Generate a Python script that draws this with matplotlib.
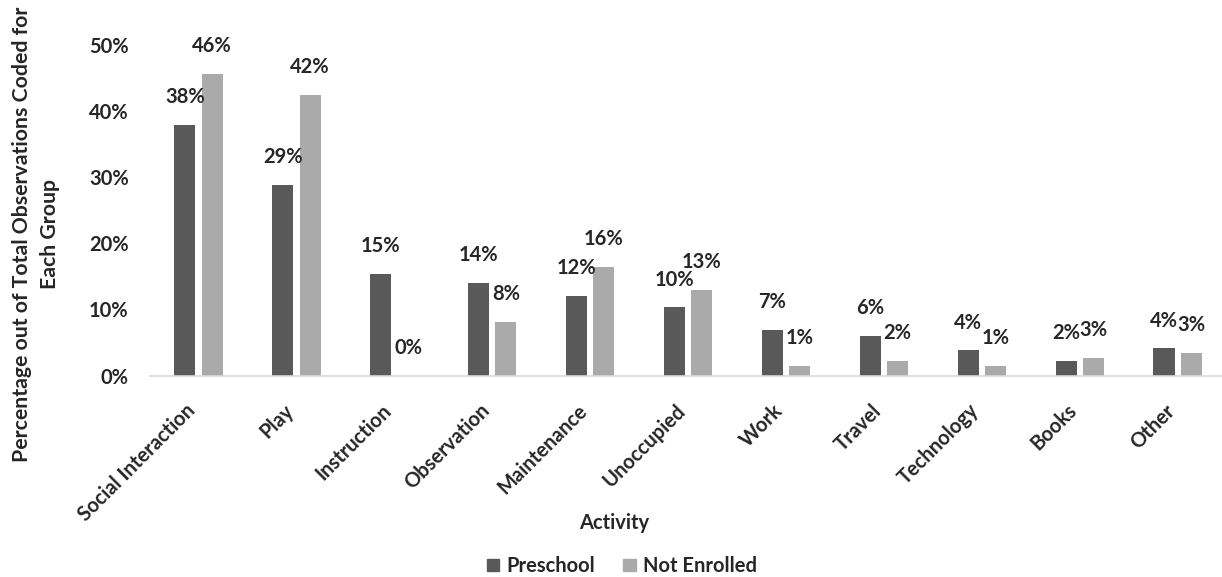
import matplotlib
matplotlib.use('Agg')
from matplotlib import pyplot as plt
from matplotlib.patches import Patch
import numpy as np

# activity categories and share of observations (%) for each group
activities = ['Social Interaction', 'Play', 'Instruction', 'Observation', 'Maintenance',
              'Unoccupied', 'Work', 'Travel', 'Technology', 'Books', 'Other']
preschool = [37.9, 28.8, 15.4, 14.0, 12.0, 10.3, 6.9, 6.0, 3.8, 2.2, 4.1]
not_enrolled = [45.6, 42.4, 0.0, 8.1, 16.4, 12.9, 1.4, 2.2, 1.4, 2.7, 3.4]
y_ticks = [0, 10, 20, 30, 40, 50]

dark = '#595959'
light = '#aaaaaa'
txt = '#262626'

plt.rcParams['font.family'] = ['Lato', 'DejaVu Sans']
plt.rcParams['font.weight'] = 'bold'
fs = 14.5

fig = plt.figure(figsize=(12.22, 5.77), dpi=100)
ax = fig.add_axes([149.5 / 1222, 1 - 375.5 / 577, (1226.7 - 149.5) / 1222, (375.5 - 45) / 577])

x = np.arange(len(activities))
w = 0.215
b1 = ax.bar(x - 0.14, preschool, w, color=dark, label='Preschool')
b2 = ax.bar(x + 0.14, not_enrolled, w, color=light, label='Not Enrolled')

# value labels above each bar
for bars, vals in ((b1, preschool), (b2, not_enrolled)):
    for r, v in zip(bars, vals):
        ax.annotate('%d%%' % round(v), (r.get_x() + r.get_width() / 2, v),
                    xytext=(0, 20), textcoords='offset points',
                    ha='center', va='center', fontsize=fs, fontweight='bold', color=txt)

ax.set_xlim(-0.5, len(activities) - 0.5)
ax.set_ylim(0, 50)
ax.set_yticks(y_ticks)
ax.set_yticklabels(['%d%%' % t for t in y_ticks], fontsize=fs, fontweight='bold', color=txt)
ax.set_xticks(x - 0.06)
ax.set_xticklabels(activities, rotation=45, ha='right', va='center', rotation_mode='anchor',
                   fontsize=fs, fontweight='bold', color=txt)
ax.tick_params(axis='y', length=0, pad=15)
ax.tick_params(axis='x', length=0, pad=23)

for s in ('top', 'right', 'left'):
    ax.spines[s].set_visible(False)
ax.spines['bottom'].set_color('#d9d9d9')
ax.spines['bottom'].set_linewidth(1.2)

fig.text(36 / 1222, 1 - 234 / 577, 'Percentage out of Total Observations Coded for\nEach Group',
         rotation=90, ha='center', va='center', multialignment='center',
         fontsize=15.3, fontweight='bold', color=txt, linespacing=1.45)
fig.text(614 / 1222, 1 - 523 / 577, 'Activity', ha='center', va='center',
         fontsize=fs, fontweight='bold', color=txt)

handles = [Patch(color=dark), Patch(color=light)]
fig.legend(handles, ['Preschool', 'Not Enrolled'], loc='center', ncol=2,
           bbox_to_anchor=(622 / 1222, 1 - 566 / 577), frameon=False,
           prop={'size': fs, 'weight': 'bold'}, labelcolor=txt,
           handlelength=0.6, handleheight=0.6, handletextpad=0.35, columnspacing=1.4)

fig.savefig('out.png', dpi=100)
